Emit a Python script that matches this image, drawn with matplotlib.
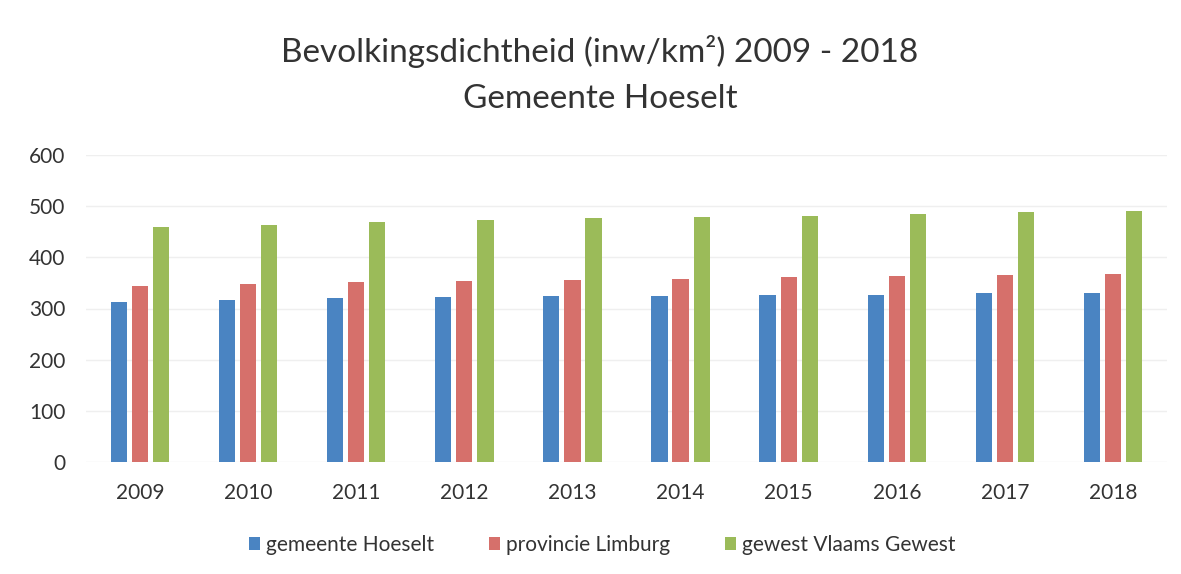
import matplotlib
matplotlib.use("Agg")
import matplotlib.pyplot as plt
import numpy as np

years = ["2009", "2010", "2011", "2012", "2013", "2014", "2015", "2016", "2017", "2018"]
hoeselt = [313, 317, 321, 322, 324, 325, 326, 327, 330, 331]
limburg = [344, 347, 351, 354, 356, 358, 361, 363, 366, 368]
vlaams = [460, 464, 469, 472, 476, 478, 481, 485, 488, 491]
series_names = ["gemeente Hoeselt", "provincie Limburg", "gewest Vlaams Gewest"]
colors = ["#4a84c2", "#d6706b", "#9bbb59"]
yticks = [0, 100, 200, 300, 400, 500, 600]

plt.rcParams['font.family'] = ['Lato', 'DejaVu Sans']
fig = plt.figure(figsize=(11.81, 5.74), dpi=100)
ax = fig.add_axes([86/1181, 1-462/574, (1167-86)/1181, (462-155)/574])

x = np.arange(len(years))
w = 0.15
step = 0.195
for i, (vals, name, c) in enumerate(zip([hoeselt, limburg, vlaams], series_names, colors)):
    ax.bar(x + (i-1)*step, vals, width=w, color=c, label=name, zorder=2)

ax.set_xlim(-0.5, len(years)-0.5)
ax.set_ylim(0, 600)
ax.set_yticks(yticks)
ax.set_xticks(x)
ax.set_xticklabels(years)
ax.tick_params(axis='both', length=0, labelsize=15, colors="#333333")
ax.tick_params(axis='y', pad=15)
ax.tick_params(axis='x', pad=15)
for lbl in ax.get_yticklabels():
    lbl.set_horizontalalignment('right')
ax.grid(axis='y', color="#efefef", linewidth=1, zorder=0)
for s in ax.spines.values():
    s.set_visible(False)

fig.text(0.508, 1-52/574, "Bevolkingsdichtheid (inw/km²) 2009 - 2018", ha='center', va='center',
         fontsize=24, color="#333333")
fig.text(0.508, 1-99/574, "Gemeente Hoeselt", ha='center', va='center', fontsize=24, color="#333333")

fig.legend(loc='center', bbox_to_anchor=(0.51, 1-545/574), ncol=3, frameon=False,
           fontsize=15, handlelength=0.55, handleheight=0.55, handletextpad=0.3, columnspacing=2.6,
           labelcolor="#333333")

fig.savefig("out.png", dpi=100, facecolor="white")
